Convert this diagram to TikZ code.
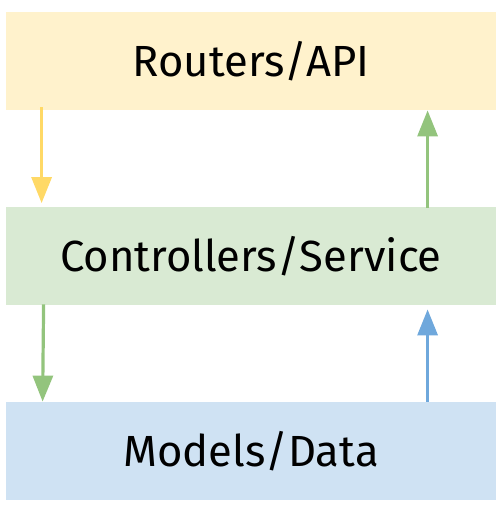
\documentclass[tikz,border=0pt]{standalone}
\usepackage{fontspec}
\setmainfont{Fira Sans}
\usetikzlibrary{arrows.meta}

\definecolor{ROUTFILL}{HTML}{FFF2CC}
\definecolor{SERVFILL}{HTML}{D9EAD3}
\definecolor{DATAFILL}{HTML}{CFE2F3}
\definecolor{ROUTLINE}{HTML}{FFD966}
\definecolor{SERVLINE}{HTML}{93C47D}
\definecolor{DATALINE}{HTML}{6FA8DC}

\begin{document}
\begin{tikzpicture}[x=0.5pt, y=-0.5pt,
    layer/.style={minimum width=245pt, minimum height=49pt, inner sep=0pt,
        font=\fontsize{21.8}{26}\selectfont},
    flow/.style={line width=1.6pt, -{Triangle[length=13pt, width=10pt]}}]
            \useasboundingbox (0,0) rectangle (503,526);

            % layers
            \node[layer, fill=ROUTFILL] (routers) at (251,61) {Routers/API};
            \node[layer, fill=SERVFILL] (service) at (251,256) {Controllers/Service};
            \node[layer, fill=DATAFILL] (models) at (251,451) {Models/Data};

            % calls down, results up
            \draw[flow, ROUTLINE] ([xshift=18pt, yshift=1.5pt]routers.south west) -- ([xshift=18pt, yshift=1.75pt]service.north west);
            \draw[flow, SERVLINE] ([xshift=211pt, yshift=-0.5pt]service.north west) -- ([xshift=211pt]routers.south west);
            \draw[flow, SERVLINE] ([xshift=19pt, yshift=0.5pt]service.south west) -- ([xshift=18.5pt]models.north west);
            \draw[flow, DATALINE] ([xshift=211pt]models.north west) -- ([xshift=211pt, yshift=-2pt]service.south west);
        \end{tikzpicture}
\end{document}
